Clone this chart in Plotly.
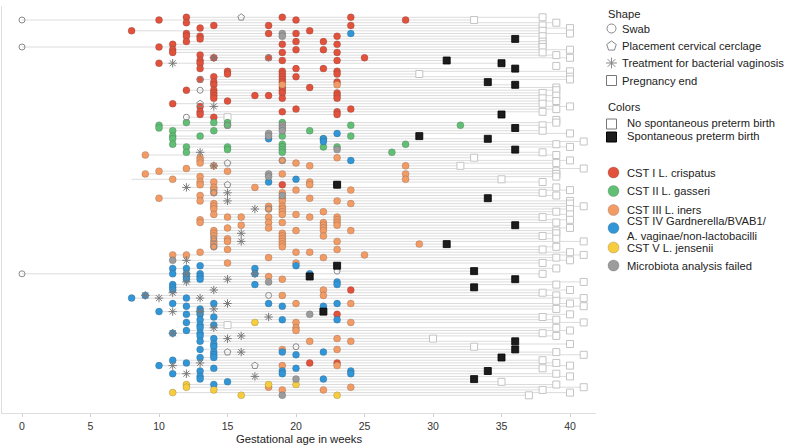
import plotly.graph_objects as go

# ---------------- data (row index, gestational week) ----------------
cst1_crispatus = [
    (5, 8), (1, 10), (11, 10), (17, 10),
    (10, 11), (12, 11), (13, 11), (32, 11),
    (0, 12), (2, 12), (6, 12), (7, 12), (9, 12), (27, 12),
    (4, 13), (7, 13), (8, 13), (14, 13), (16, 13), (17, 13), (19, 13), (23, 13), (33, 13), (35, 13), (36, 13),
    (3, 14), (15, 14), (22, 14), (24, 14), (25, 14), (27, 14), (28, 14), (29, 14), (30, 14), (37, 14),
    (20, 15), (21, 15), (31, 15), (29, 17),
    (3, 18), (6, 18), (15, 18), (29, 18),
    (0, 19), (10, 19), (13, 19), (16, 19), (20, 19), (21, 19), (22, 19), (23, 19), (24, 19), (26, 19),
    (27, 19), (28, 19), (30, 19), (35, 19),
    (1, 20), (6, 20), (9, 20), (12, 20), (19, 20), (22, 20), (34, 20),
    (5, 21), (26, 21), (9, 22), (12, 22), (19, 22),
    (7, 23), (10, 23), (13, 23), (16, 23), (20, 23), (21, 23), (24, 23), (28, 23), (29, 23), (30, 23),
    (35, 23), (36, 23),
    (0, 24), (3, 24), (34, 24), (15, 25), (1, 28),
    (62, 19), (62, 23), (101, 24), (110, 23), (128, 21), (128, 23),
]
cst2_gasseri = [
    (40, 10), (41, 10), (42, 11), (44, 11), (45, 11), (47, 11),
    (39, 12), (48, 12), (50, 12), (44, 13), (39, 14), (42, 14),
    (39, 15), (40, 15), (48, 15), (49, 15),
    (39, 19), (44, 19), (47, 19), (48, 19), (49, 19), (50, 19),
    (42, 21), (45, 22), (48, 22), (48, 23), (40, 24), (44, 24),
    (50, 27), (47, 28), (40, 32),
]
cst3_iners = [
    (51, 9), (58, 9), (57, 10), (67, 10), (60, 11), (88, 11), (56, 12), (88, 12),
    (52, 13), (53, 13), (54, 13), (59, 13), (61, 13), (62, 13), (66, 13), (68, 13), (75, 13), (76, 13), (87, 13),
    (55, 14), (61, 14), (63, 14), (64, 14), (65, 14), (69, 14), (70, 14), (71, 14), (73, 14),
    (79, 14), (80, 14), (81, 14), (83, 14), (84, 14), (85, 14),
    (57, 15), (74, 15), (78, 15), (82, 15), (83, 15), (86, 15), (91, 15),
    (74, 16), (77, 16), (63, 17),
    (70, 18), (71, 18), (74, 18), (76, 18), (78, 18), (89, 18),
    (53, 19), (58, 19), (65, 19), (67, 19), (68, 19), (70, 19), (71, 19), (72, 19), (73, 19), (76, 19),
    (80, 19), (81, 19), (82, 19), (83, 19), (84, 19), (85, 19),
    (54, 20), (64, 20), (73, 20), (79, 20), (87, 20), (91, 20),
    (55, 21), (61, 21), (62, 21), (67, 21), (74, 21), (87, 21),
    (72, 22), (76, 22), (77, 22), (78, 22), (79, 22), (81, 22), (89, 22),
    (52, 23), (68, 23), (74, 23), (75, 23), (76, 23), (77, 23), (83, 23), (86, 23),
    (64, 24), (69, 24), (79, 24), (88, 25), (55, 28), (58, 28), (60, 28), (84, 29),
    (96, 18), (97, 19), (103, 19), (123, 19), (129, 19),
    (106, 20), (113, 20), (115, 20), (116, 20), (120, 21), (101, 22), (103, 22),
    (119, 23), (123, 23), (129, 23), (106, 24), (113, 24), (120, 24),
    (137, 18), (138, 19), (138, 22), (137, 24), (25, 19), (25, 23),
]
cst4_bv = [
    (6, 24), (43, 23), (45, 18), (45, 22), (46, 22), (53, 24), (61, 18), (60, 20),
    (104, 8), (103, 9), (109, 10), (129, 10),
    (93, 11), (95, 11), (99, 11), (100, 11), (101, 11), (106, 11), (117, 11), (127, 11), (132, 11),
    (93, 12), (95, 12), (96, 12), (97, 12), (104, 12), (107, 12), (110, 12), (113, 12), (116, 12), (128, 12),
    (92, 13), (95, 13), (96, 13), (97, 13), (108, 13), (109, 13), (110, 13), (112, 13), (114, 13), (115, 13),
    (117, 13), (118, 13), (120, 13), (123, 13), (126, 13), (131, 13), (133, 13), (134, 13),
    (106, 14), (111, 14), (114, 14), (119, 14), (121, 14), (122, 14), (124, 14), (125, 14), (126, 14),
    (130, 14), (136, 14), (135, 15),
    (93, 17), (95, 17), (99, 17), (106, 18),
    (107, 19), (112, 19), (124, 19), (131, 19), (132, 19),
    (92, 20), (125, 20), (130, 20), (95, 21),
    (107, 22), (124, 22), (134, 22),
    (98, 23), (99, 23), (106, 23), (112, 23), (131, 24), (132, 24),
]
cst5_jensenii = [(139, 11), (136, 12), (137, 12), (138, 14), (140, 16), (113, 17), (136, 18), (136, 20), (140, 23)]
analysis_failed = [
    (6, 19), (7, 19), (40, 19), (41, 19), (42, 19), (43, 18), (44, 18), (49, 23),
    (58, 18), (59, 18), (66, 19), (90, 11), (98, 18), (110, 21), (134, 20), (140, 19),
]
swabs = [(1, 0), (11, 0), (95, 0), (37, 12), (27, 13), (23, 13), (53, 19), (82, 14), (85, 14),
         (65, 14), (71, 18), (103, 18), (122, 20), (94, 23), (15, 18)]
cerclage = [(0, 16), (32, 13), (40, 15), (54, 15), (62, 15), (129, 17), (124, 15)]
treatment = [
    (17, 11), (15, 14), (33, 14), (50, 13), (55, 14), (63, 12), (65, 15), (68, 15), (71, 17), (80, 16),
    (83, 16), (90, 12), (95, 12), (97, 15), (95, 17), (98, 12), (102, 11), (103, 9), (101, 14), (104, 10),
    (104, 13), (106, 15), (109, 11), (109, 13), (108, 14), (111, 18), (115, 14), (117, 11), (119, 15),
    (118, 16), (124, 16), (129, 11), (128, 13), (132, 12), (133, 17),
]
extra_line_starts = [(60, 8)]

# pregnancy end week for every row (row 0 .. 140)
end_week = [
    38, 33, 39, 38, 40, 38, 40, 38, 36, 38, 38, 38, 40, 38, 39, 40, 31, 35, 39, 36,
    40, 29, 40, 40, 34, 36, 39, 39, 38, 39, 38, 39, 38, 40, 39, 38, 35, 15, 39, 39,
    38, 36, 38, 40, 29, 34, 41, 39, 40, 36, 38, 39, 33, 40, 39, 32, 41, 39, 39, 39,
    35, 38, 23, 39, 40, 38, 39, 34, 40, 40, 41, 40, 39, 40, 38, 40, 39, 36, 40, 39,
    39, 38, 39, 41, 31, 39, 38, 40, 41, 39, 40, 38, 23, 39, 33, 38, 21, 36, 41, 39,
    33, 40, 38, 39, 41, 39, 40, 41, 39, 22, 40, 38, 39, 41, 15, 39, 40, 38, 39, 30,
    36, 40, 33, 36, 39, 41, 35, 38, 39, 40, 38, 34, 39, 40, 33, 35, 39, 41, 38, 40, 37,
]
sptb_rows = [8, 16, 17, 19, 24, 25, 36, 41, 44, 45, 49, 62, 67, 77, 84, 92, 94, 96, 97, 100,
             109, 120, 123, 126, 131, 134]

COL = {"red": "#E2513C", "green": "#60BF75", "orange": "#F39B65", "blue": "#3096D8",
       "yellow": "#F7CD3F", "gray": "#9C9C9C"}
FONT = "Liberation Sans, Arial, sans-serif"
LFS = 11.2

n_rows = len(end_week)
start = {}
for lst in [cst1_crispatus, cst2_gasseri, cst3_iners, cst4_bv, cst5_jensenii,
            analysis_failed, swabs, cerclage, treatment, extra_line_starts]:
    for r, w in lst:
        start[r] = min(start.get(r, 99), w)

lx, ly = [], []
for r in range(n_rows):
    s = min(start.get(r, end_week[r]), end_week[r])
    lx += [s, end_week[r], None]
    ly += [r, r, None]

fig = go.Figure()
fig.add_trace(go.Scatter(x=lx, y=ly, mode="lines", line=dict(color="#dcdcdc", width=1),
                         hoverinfo="skip", showlegend=False))

# white end squares
wr = [r for r in range(n_rows) if r not in sptb_rows]
fig.add_trace(go.Scatter(x=[end_week[r] for r in wr], y=wr, mode="markers",
                         marker=dict(symbol="square", size=7, color="white",
                                     line=dict(color="#c4c4c4", width=1)), showlegend=False))

def pts(lst, name, color):
    fig.add_trace(go.Scatter(x=[w for r, w in lst], y=[r for r, w in lst], mode="markers", name=name,
                             marker=dict(symbol="circle", size=7, color=color,
                                         line=dict(color="rgba(60,60,60,0.35)", width=0.6)),
                             showlegend=False))

pts(cst1_crispatus, "CST I", COL["red"])
pts(cst2_gasseri, "CST II", COL["green"])
pts(cst3_iners, "CST III", COL["orange"])
pts(cst4_bv, "CST IV", COL["blue"])
pts(cst5_jensenii, "CST V", COL["yellow"])
pts(analysis_failed, "failed", COL["gray"])

fig.add_trace(go.Scatter(x=[w for r, w in swabs], y=[r for r, w in swabs], mode="markers",
                         marker=dict(symbol="circle-open", size=6, color="#8a8a8a", line=dict(width=1)),
                         showlegend=False))
fig.add_trace(go.Scatter(x=[w for r, w in cerclage], y=[r for r, w in cerclage], mode="markers",
                         marker=dict(symbol="pentagon-open", size=7, color="#8a8a8a", line=dict(width=1)),
                         showlegend=False))
fig.add_trace(go.Scatter(x=[w for r, w in treatment], y=[r for r, w in treatment], mode="markers",
                         marker=dict(symbol="asterisk-open", size=7, color="#7a7a7a", line=dict(width=1)),
                         showlegend=False))
fig.add_trace(go.Scatter(x=[end_week[r] for r in sptb_rows], y=sptb_rows, mode="markers",
                         marker=dict(symbol="square", size=7, color="#1c1c1c",
                                     line=dict(color="#000000", width=0.8)), showlegend=False))

# ---------------- custom legend (pixel-based helper axes) ----------------
leg_sym = [
    (611.5, 28.5, "circle-open", "#888888", 9, "Swab"),
    (611.5, 46, "pentagon-open", "#888888", 10, "Placement cervical cerclage"),
    (611.5, 63, "asterisk-open", "#888888", 9, "Treatment for bacterial vaginosis"),
    (611.5, 80.5, "square-open", "#777777", 10, "Pregnancy end"),
]
for x, y, sym, c, s, t in leg_sym:
    fig.add_trace(go.Scatter(x=[x], y=[y], xaxis="x2", yaxis="y2", mode="markers",
                             marker=dict(symbol=sym, size=s, color=c, line=dict(width=1)), showlegend=False))
    fig.add_annotation(x=620, y=y, xref="x2", yref="y2", text=t, showarrow=False, xanchor="left",
                       yanchor="middle", font=dict(family=FONT, size=LFS, color="#222"))

fig.add_trace(go.Scatter(x=[611.5], y=[124], xaxis="x2", yaxis="y2", mode="markers",
                         marker=dict(symbol="square", size=10, color="white", line=dict(color="#777", width=1)),
                         showlegend=False))
fig.add_trace(go.Scatter(x=[611.5], y=[137], xaxis="x2", yaxis="y2", mode="markers",
                         marker=dict(symbol="square", size=10, color="#1c1c1c", line=dict(color="#000", width=1)),
                         showlegend=False))
for y, t in [(123, "No spontaneous preterm birth"), (136, "Spontaneous preterm birth")]:
    fig.add_annotation(x=625, y=y, xref="x2", yref="y2", text=t, showarrow=False, xanchor="left",
                       yanchor="middle", font=dict(family=FONT, size=LFS, color="#222"))
for y, t in [(14, "Shape"), (107, "Colors")]:
    fig.add_annotation(x=606, y=y, xref="x2", yref="y2", text=t, showarrow=False, xanchor="left",
                       yanchor="middle", font=dict(family=FONT, size=LFS, color="#222"))

cst_leg = [
    (172.5, COL["red"], "CST I L. crispatus"),
    (191, COL["green"], "CST II L. gasseri"),
    (210, COL["orange"], "CST III L. iners"),
    (228, COL["blue"], "CST IV Gardnerella/BVAB1/<br>A. vaginae/non-lactobacilli"),
    (247.5, COL["yellow"], "CST V L. jensenii"),
    (265.5, COL["gray"], "Microbiota analysis failed"),
]
for y, c, t in cst_leg:
    fig.add_trace(go.Scatter(x=[613.5], y=[y], xaxis="x2", yaxis="y2", mode="markers",
                             marker=dict(symbol="circle", size=11, color=c,
                                         line=dict(color="rgba(60,60,60,0.35)", width=0.6)),
                             showlegend=False))
    fig.add_annotation(x=625, y=y, xref="x2", yref="y2", text=t, showarrow=False, xanchor="left",
                       yanchor="middle", align="left",
                       font=dict(family=FONT, size=LFS, color="#222"))

W, H = 787, 447
ml, mr, mt, mb = 2, 0, 6, 34
pw = W - ml - mr
plot_w = 594
fig.update_layout(
    width=W, height=H, margin=dict(l=ml, r=mr, t=mt, b=mb),
    paper_bgcolor="white", plot_bgcolor="white",
    font=dict(family=FONT, color="#333"),
    hovermode=False,
    xaxis=dict(domain=[0, plot_w / pw], range=[-20 / 13.7, -20 / 13.7 + plot_w / 13.7],
               tickvals=[0, 5, 10, 15, 20, 25, 30, 35, 40], ticks="outside", ticklen=3,
               tickcolor="#cfcfcf", showgrid=False, zeroline=False, showline=True,
               linecolor="#dedede", linewidth=1, tickfont=dict(size=10.5, color="#333"),
               title=dict(text="Gestational age in weeks", font=dict(size=11.3, color="#222"), standoff=4)),
    yaxis=dict(range=[-4.19 + 407 / 2.7, -4.19], showgrid=False, zeroline=False, showticklabels=False,
               ticks="", showline=True, linecolor="#dedede", linewidth=1),
    xaxis2=dict(domain=[(plot_w + 2) / pw, 1], range=[598, 787], visible=False, anchor="y2"),
    yaxis2=dict(domain=[0, 1], range=[413, 6], visible=False, anchor="x2"),
)

fig.write_html("out.html", config={"displayModeBar": False, "staticPlot": True},
               post_script="document.body.style.margin='0px';document.body.style.padding='0px';")
